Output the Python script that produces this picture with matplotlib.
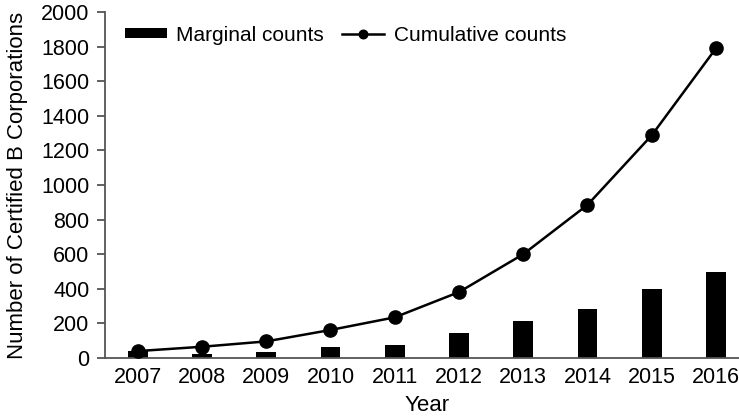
import matplotlib
matplotlib.use("Agg")
import matplotlib.pyplot as plt
import numpy as np

years = [2007, 2008, 2009, 2010, 2011, 2012, 2013, 2014, 2015, 2016]
marginal = [38, 25, 33, 62, 73, 146, 215, 285, 398, 500]
cumulative = [40, 65, 96, 162, 235, 381, 600, 885, 1287, 1790]
yticks = [0, 200, 400, 600, 800, 1000, 1200, 1400, 1600, 1800, 2000]

plt.rcParams['font.family'] = ['Liberation Sans', 'DejaVu Sans']

fig = plt.figure(figsize=(7.39, 4.18), dpi=100)
W, H = 739, 418
left, right, top, bottom = 105, 750, 12, 358
ax = fig.add_axes([left / W, 1 - bottom / H, (right - left) / W, (bottom - top) / H])

x = np.arange(len(years))
bars = ax.bar(x, marginal, width=0.31, color='black', label='Marginal counts', zorder=2)
line, = ax.plot(x, cumulative, color='black', lw=1.8, marker='o', markersize=9.5,
                label='Cumulative counts', zorder=3, clip_on=False)

ax.set_xlim(-0.51, len(years) - 1 + 0.53)
ax.set_ylim(0, 2000)
ax.set_xticks(x)
ax.set_xticklabels([str(y) for y in years])
ax.set_yticks(yticks)

for s in ['top', 'right']:
    ax.spines[s].set_visible(False)
for s in ['left', 'bottom']:
    ax.spines[s].set_color('#555555')
    ax.spines[s].set_linewidth(1.3)

ax.tick_params(axis='y', direction='out', length=5.8, width=1.3, color='#555555',
               pad=5.5, labelsize=15.5, labelcolor='black')
ax.tick_params(axis='x', length=0, pad=6.5, labelsize=15.5, labelcolor='black')

ax.set_xlabel('Year', fontsize=16, labelpad=5)
ax.set_ylabel('Number of Certified B Corporations', fontsize=16, labelpad=9)

leg = ax.legend(handles=[bars, line], loc='upper left', bbox_to_anchor=(0.018, 0.985),
                ncol=2, frameon=False,
                fontsize=15, handlelength=2.0, handleheight=0.35, handletextpad=0.45,
                columnspacing=0.9, markerscale=0.65, borderaxespad=0.0)

fig.savefig('out.png', dpi=100)
